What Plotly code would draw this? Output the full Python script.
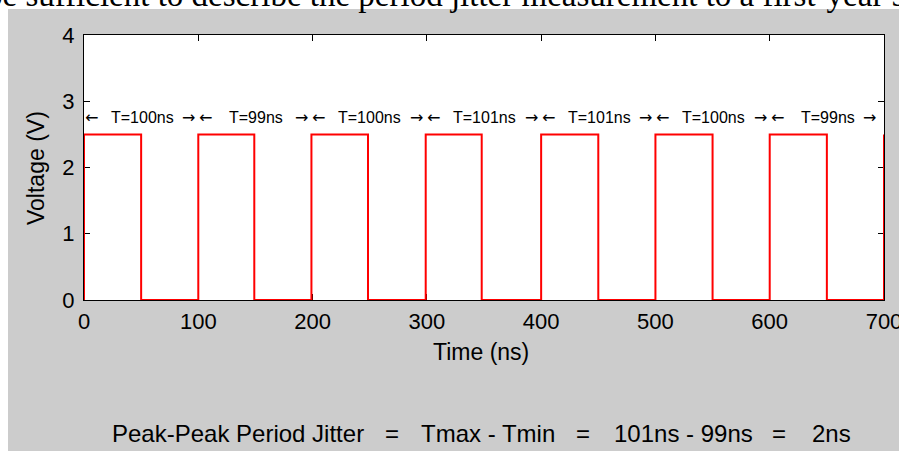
import plotly.graph_objects as go

# ---- data ----
rise_times = [0, 100, 199, 299, 400, 500, 600, 700]      # ns
fall_times = [50, 149, 248.5, 348, 450, 550, 650]        # ns
high_level = 2.5                                          # V
low_level = 0.0
periods = [100, 99, 100, 101, 101, 100, 99]               # ns labels
x_ticks = [0, 100, 200, 300, 400, 500, 600, 700]
y_ticks = [0, 1, 2, 3, 4]

# build square-wave step points from edges
xs, ys = [], []
for i, r in enumerate(rise_times):
    xs += [r, r]
    ys += [low_level, high_level]
    if i < len(fall_times):
        xs += [fall_times[i], fall_times[i]]
        ys += [high_level, low_level]

W, H = 899, 451
L, R, T, B = 84, 15, 35, 151
PW, PH = W - L - R, H - T - B   # 800 x 265

# helpers: pixel -> paper fraction
def px(sx):
    return (sx - L) / PW

def py(sy):
    return (H - B - sy) / PH

fig = go.Figure()
fig.add_trace(go.Scatter(x=xs, y=ys, mode="lines",
                         line=dict(color="#ff0000", width=2),
                         hoverinfo="skip", showlegend=False))

sans = "Liberation Sans, Arial"
lab_y = 2.76
ann = []
for i, p in enumerate(periods):
    a, b = rise_times[i], rise_times[i + 1]
    ann.append(dict(x=(a + b) / 2 + 1, y=lab_y, xref="x", yref="y", text=f"T={p}ns",
                    showarrow=False, xanchor="center", yanchor="middle",
                    font=dict(size=16, color="black", family=sans)))
    ann.append(dict(x=a, y=lab_y, xref="x", yref="y", text="\u2190", showarrow=False,
                    xanchor="left", yanchor="middle", xshift=-1,
                    font=dict(size=16, color="black", family="DejaVu Sans")))
    ann.append(dict(x=b, y=lab_y, xref="x", yref="y", text="\u2192", showarrow=False,
                    xanchor="right", yanchor="middle",
                    xshift=-1 if i < len(periods) - 1 else -6,
                    font=dict(size=16, color="black", family="DejaVu Sans")))

# axis titles
title_font = dict(size=23, color="black", family=sans)
ann.append(dict(x=px(481), y=py(352), xref="paper", yref="paper", text="Time (ns)",
                showarrow=False, xanchor="center", yanchor="middle", font=title_font))
ann.append(dict(x=px(36), y=py(168), xref="paper", yref="paper", text="Voltage (V)",
                showarrow=False, xanchor="center", yanchor="middle", textangle=-90,
                font=title_font))

bottom_font = dict(size=24, color="black", family=sans)
bottom_parts = [("Peak-Peak Period Jitter", 238), ("=", 391.5), ("Tmax - Tmin", 488),
                ("=", 583), ("101ns - 99ns", 683.5), ("=", 779), ("2ns", 831)]
for txt, cx in bottom_parts:
    ann.append(dict(x=px(cx), y=py(433), xref="paper", yref="paper", text=txt,
                    showarrow=False, xanchor="center", yanchor="middle", font=bottom_font))

# clipped line of surrounding document text at the very top
ann.append(dict(x=px(-16), y=py(-5), xref="paper", yref="paper",
                text="be sufficient to describe the period jitter measurement to a first-year st",
                showarrow=False, xanchor="left", yanchor="middle",
                font=dict(size=33, color="black", family="Liberation Serif, Times New Roman")))

shapes = [
    dict(type="rect", xref="paper", yref="paper", x0=px(-50), x1=px(1000), y0=py(9), y1=py(-50),
         fillcolor="white", line=dict(width=0), layer="above"),
    dict(type="rect", xref="paper", yref="paper", x0=px(-50), x1=px(8), y0=py(1000), y1=py(-50),
         fillcolor="white", line=dict(width=0), layer="above"),
]

axis_common = dict(showline=True, linecolor="black", linewidth=1, mirror="ticks",
                   ticks="inside", ticklen=6, tickcolor="black", tickwidth=1,
                   showgrid=False, zeroline=False, layer="below traces",
                   ticklabeloverflow="allow",
                   tickfont=dict(size=22, color="black", family=sans))

fig.update_layout(
    width=W, height=H,
    margin=dict(l=L, r=R, t=T, b=B, autoexpand=False),
    paper_bgcolor="#cccccc", plot_bgcolor="white",
    xaxis=dict(range=[0, 700], tickvals=x_ticks, ticktext=[str(v) for v in x_ticks],
               ticklabelstandoff=2, **axis_common),
    yaxis=dict(range=[0, 4], tickvals=y_ticks, ticktext=[str(v) for v in y_ticks],
               ticklabelstandoff=4, **axis_common),
    annotations=ann, shapes=shapes,
)

fig.write_html("out.html", config={"displayModeBar": False},
               post_script="document.body.style.margin='0';")
